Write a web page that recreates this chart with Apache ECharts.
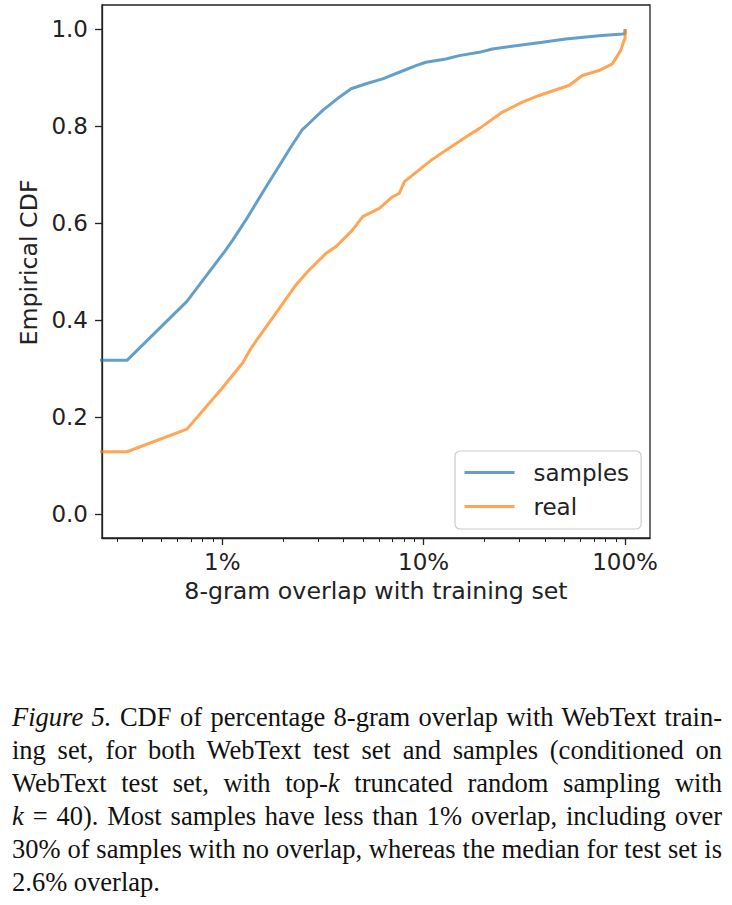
<!DOCTYPE html>
<html>
<head>
<meta charset="utf-8">
<script src="https://cdn.jsdelivr.net/npm/echarts@6/dist/echarts.min.js"></script>
<style>
  html, body { margin: 0; padding: 0; background: #fff; }
  #chart { position: absolute; left: 0; top: 0; width: 732px; height: 640px; }
  .cap { position: absolute; left: 12px; top: 701px; width: 710px;
         font-family: "Liberation Serif", "DejaVu Serif", serif; font-size: 26.5px;
         line-height: 33px; color: #111; }
  .cap .l { text-align: justify; text-align-last: justify; }
  .cap .l.last { text-align: left; text-align-last: left; }
</style>
</head>
<body>
<div id="chart"></div>
<div class="cap">
  <div class="l"><i>Figure 5.</i> CDF of percentage 8-gram overlap with WebText train-</div>
  <div class="l">ing set, for both WebText test set and samples (conditioned on</div>
  <div class="l">WebText test set, with top-<i>k</i> truncated random sampling with</div>
  <div class="l"><i>k</i> = 40). Most samples have less than 1% overlap, including over</div>
  <div class="l">30% of samples with no overlap, whereas the median for test set is</div>
  <div class="l last">2.6% overlap.</div>
</div>
<script>
// ---- data (x = % 8-gram overlap, y = empirical CDF) ----
// first point stands for 0% overlap (clipped at the left edge of the log axis)
const samplesX = [0.1, 0.3365, 0.6676, 1.027, 1.129, 1.315, 1.652, 2.2, 2.5, 2.75, 3.153, 3.815, 4.362, 5.175, 6.256, 7.568, 9.159, 10.26, 12.9, 15.02, 18.87, 21.96, 28.68, 38.86, 50.77, 74.25, 96.85, 100, 100];
const samplesY = [0.3166, 0.3166, 0.4384, 0.5412, 0.5653, 0.6075, 0.6748, 0.7580, 0.7930, 0.8090, 0.8325, 0.8598, 0.8771, 0.8874, 0.8976, 0.9112, 0.925, 0.9318, 0.9387, 0.9455, 0.9523, 0.9593, 0.9661, 0.9729, 0.9799, 0.9866, 0.9901, 0.9907, 1.0];
const realX = [0.1, 0.3365, 0.6676, 0.989, 1.265, 1.393, 1.852, 2.328, 2.657, 3.28, 3.675, 4.442, 4.98, 6.025, 7.014, 7.568, 8.013, 8.81, 11.07, 12.9, 16.21, 18.87, 24.62, 30.93, 37.43, 47.02, 52.72, 61.35, 74.25, 86.4, 95.1, 98.7, 100, 100];
const realY = [0.128, 0.128, 0.1747, 0.2569, 0.3118, 0.3426, 0.4146, 0.4728, 0.5001, 0.5379, 0.5515, 0.5858, 0.6132, 0.6304, 0.6543, 0.6613, 0.6851, 0.6989, 0.7318, 0.7503, 0.7776, 0.7949, 0.829, 0.8495, 0.8633, 0.8771, 0.8839, 0.9044, 0.9147, 0.9285, 0.9558, 0.9764, 0.98, 1.0];
const seriesNames = ['samples', 'real'];
const xMajorTicks = [1, 10, 100];
const xMinorTicks = [0.3, 0.4, 0.5, 0.6, 0.7, 0.8, 0.9, 2, 3, 4, 5, 6, 7, 8, 9, 20, 30, 40, 50, 60, 70, 80, 90];
const yTicks = [0, 0.2, 0.4, 0.6, 0.8, 1.0];
const xTitle = '8-gram overlap with training set';
const yTitle = 'Empirical CDF';

const FONT = 'DejaVu Sans';
const FS = 23;
const FT = 23.7;
const pairs = (xs, ys) => xs.map((x, i) => [x, ys[i]]);

const chart = echarts.init(document.getElementById('chart'), null, { renderer: 'svg' });
chart.setOption({
  animation: false,
  backgroundColor: '#fff',
  grid: { left: 102, top: 5, width: 548, height: 533, show: true, borderColor: '#222', borderWidth: 1.3, backgroundColor: 'transparent' },
  legend: {
    orient: 'vertical', left: 455, top: 451,
    data: seriesNames,
    itemWidth: 50, itemHeight: 22, itemGap: 11,
    padding: [10, 12, 11, 8],
    backgroundColor: 'rgba(255,255,255,0.8)',
    borderColor: '#cccccc', borderWidth: 1.2, borderRadius: 5,
    itemStyle: { color: 'rgba(0,0,0,0)', borderColor: 'rgba(0,0,0,0)', borderWidth: 0, opacity: 0 },
    lineStyle: { width: 3, opacity: 1 },
    textStyle: { fontFamily: FONT, fontSize: FS, color: '#222', padding: [0, 0, 0, 14] }
  },
  xAxis: [
    {
      type: 'log', logBase: 10, min: 0.2529, max: 133,
      name: xTitle, nameLocation: 'middle', nameGap: 41,
      nameTextStyle: { fontFamily: FONT, fontSize: FT, color: '#222' },
      axisLine: { show: true, onZero: false, lineStyle: { color: '#222', width: 1.3 } },
      axisTick: { show: true, length: 7, customValues: xMajorTicks, lineStyle: { color: '#222', width: 1.3 } },
      axisLabel: { show: true, customValues: xMajorTicks, margin: 12, fontFamily: FONT, fontSize: FS, color: '#222',
                   formatter: v => Math.round(v) + '%' },
      splitLine: { show: false }, minorTick: { show: false }
    },
    {
      type: 'log', logBase: 10, min: 0.2529, max: 133, gridIndex: 0, position: 'bottom',
      axisLine: { show: false, onZero: false },
      axisTick: { show: true, length: 4, customValues: xMinorTicks, lineStyle: { color: '#222', width: 1 } },
      axisLabel: { show: false },
      splitLine: { show: false }
    }
  ],
  yAxis: {
    type: 'value', min: -0.05, max: 1.05,
    name: yTitle, nameLocation: 'middle', nameGap: 60,
    nameTextStyle: { fontFamily: FONT, fontSize: FT, color: '#222', padding: [0, 0, 0, 18] },
    axisLine: { show: true, onZero: false, lineStyle: { color: '#222', width: 1.3 } },
    axisTick: { show: true, length: 7, customValues: yTicks, lineStyle: { color: '#222', width: 1.3 } },
    axisLabel: { show: true, customValues: yTicks, margin: 14, fontFamily: FONT, fontSize: FS, color: '#222',
                 formatter: v => v.toFixed(1) },
    splitLine: { show: false }
  },
  series: [
    { name: seriesNames[0], type: 'line', xAxisIndex: 0, data: pairs(samplesX, samplesY), showSymbol: false, symbol: 'none',
      clip: true, lineStyle: { color: 'rgba(31,119,180,0.7)', width: 3 }, itemStyle: { color: 'rgba(31,119,180,0.7)' } },
    { name: seriesNames[1], type: 'line', xAxisIndex: 0, data: pairs(realX, realY), showSymbol: false, symbol: 'none',
      clip: true, lineStyle: { color: 'rgba(255,127,14,0.7)', width: 3 }, itemStyle: { color: 'rgba(255,127,14,0.7)' } }
  ]
});
</script>
</body>
</html>
